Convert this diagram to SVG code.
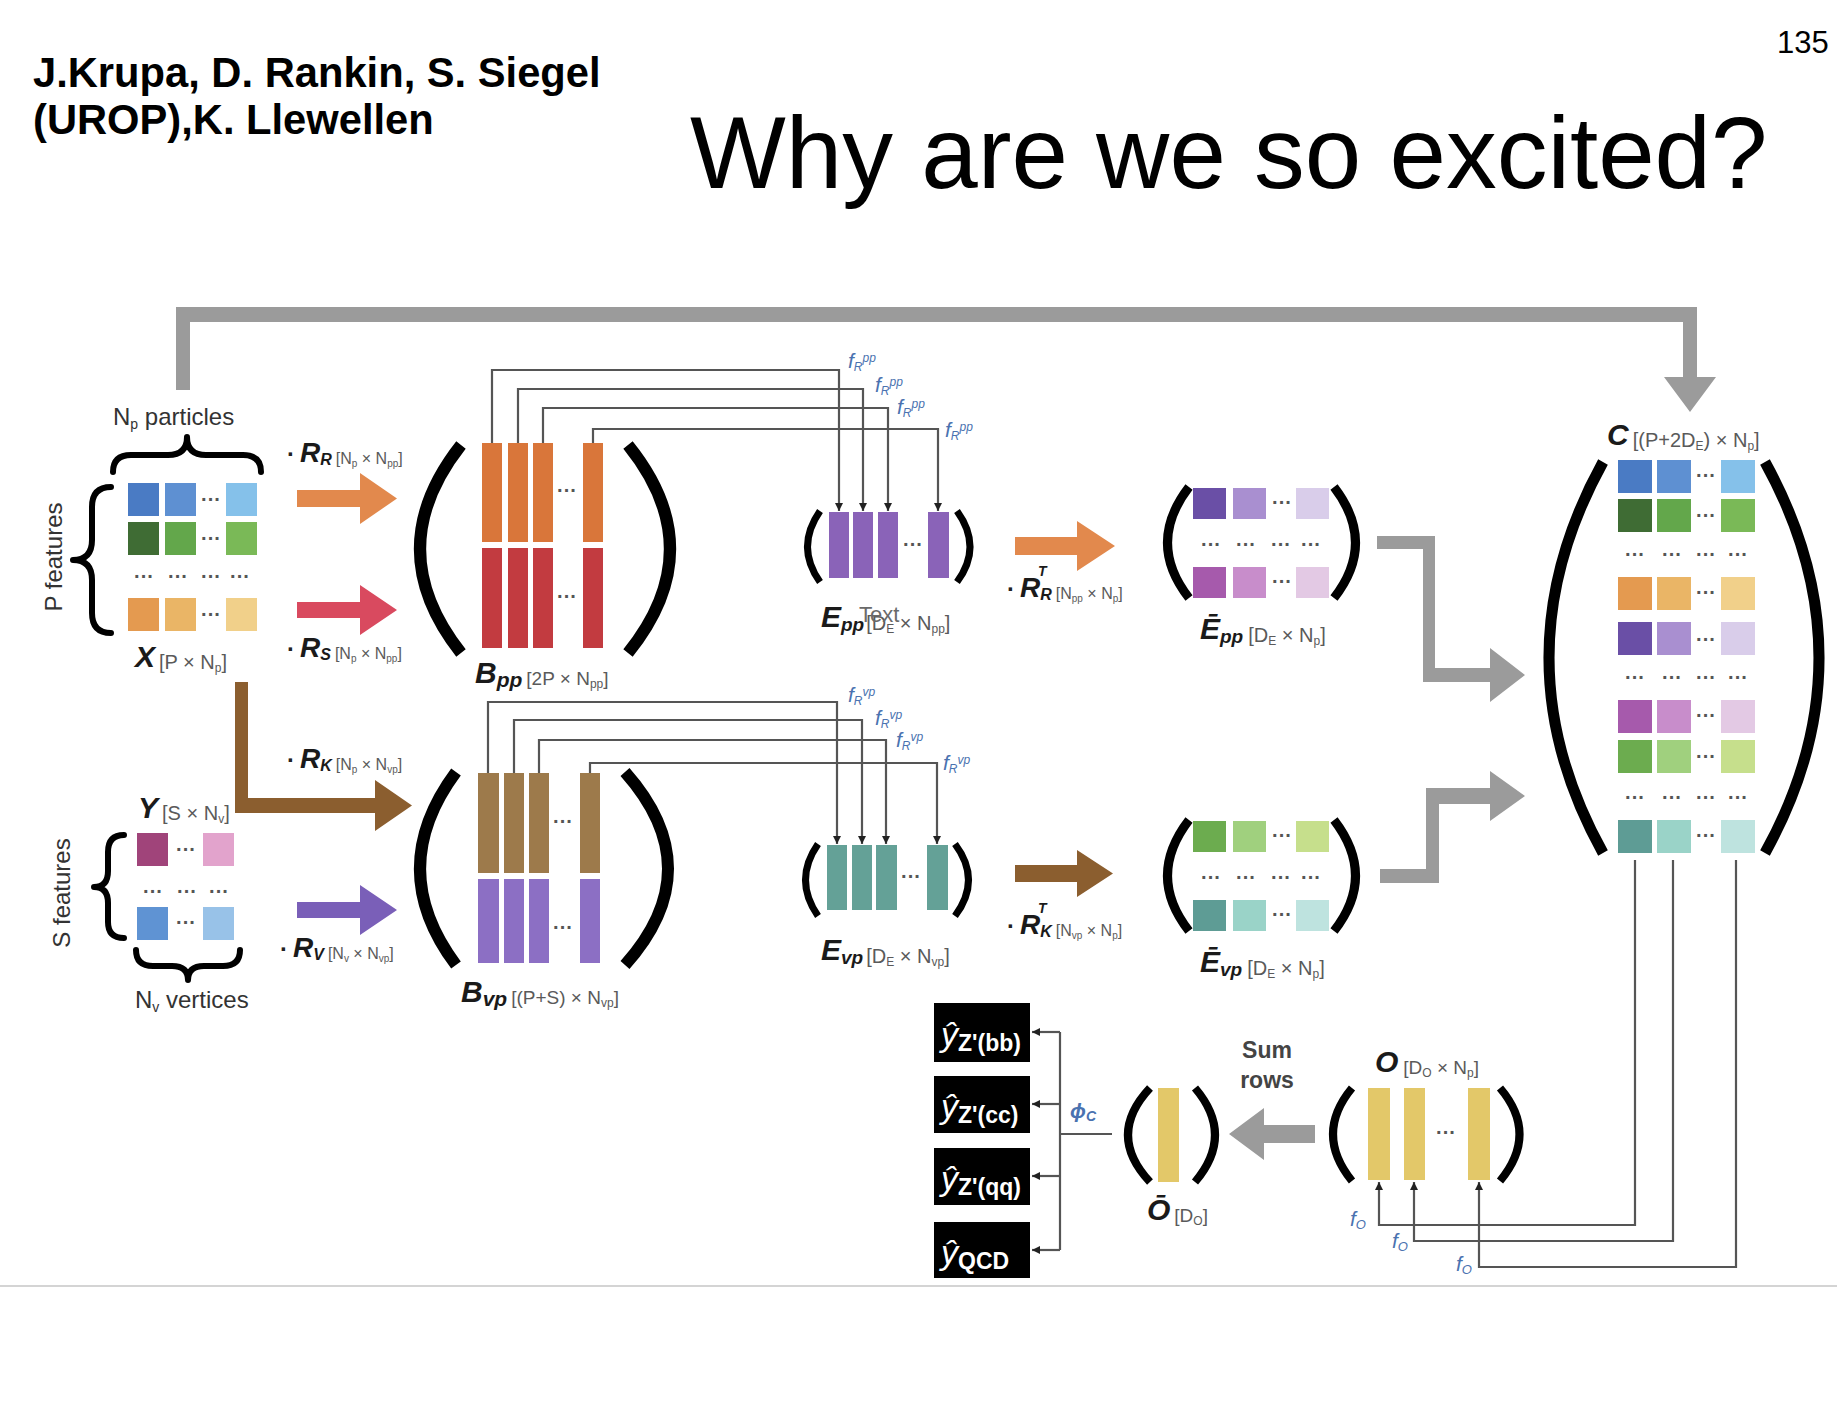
<svg xmlns="http://www.w3.org/2000/svg" width="1837" height="1420" viewBox="0 0 1837 1420">
<defs>
<style>
text { font-family: "Liberation Sans", Arial, Helvetica, sans-serif; }
.mx { font-weight: bold; font-style: italic; fill: #1a1a1a; }
.dim { fill: #5a5a5a; }
.bul { font-size: 24px; font-weight: bold; fill: #222; }
.dt { font-size: 20px; font-weight: bold; fill: #555; text-anchor: middle; }
.lab { font-size: 24px; fill: #333; }
.fl { fill: #4a72b0; font-style: italic; }
.paren { fill: none; stroke: #000; stroke-linecap: butt; }
.brace { fill: none; stroke: #000; stroke-width: 6; stroke-linecap: round; stroke-linejoin: round; }
.conn { fill: none; stroke: #555; stroke-width: 2.2; }
.gray { fill: #9b9b9b; }
.box { fill: #000; }
.boxt { fill: #fff; }
</style>
<marker id="ah" viewBox="0 0 8 8" refX="8" refY="4" markerWidth="8" markerHeight="8" markerUnits="userSpaceOnUse" orient="auto">
<path d="M0,0 L8,4 L0,8 z" fill="#222"/>
</marker>
</defs>
<rect width="1837" height="1420" fill="#fff"/>

<!-- slide header -->
<g id="header">
<text x="33" y="87" font-size="41.7" font-weight="bold" fill="#000">J.Krupa, D. Rankin, S. Siegel</text>
<text x="33" y="134" font-size="41.7" font-weight="bold" fill="#000">(UROP),K. Llewellen</text>
<text x="690" y="188" font-size="101.5" fill="#000">Why are we so excited?</text>
<text x="1777" y="53" font-size="31" fill="#000">135</text>
</g>

<!-- connectors: arrows between matrices -->
<g id="connectors">
<!-- skip connection X -> C -->
<path class="gray" d="M 176 390 V 307 H 1697 V 377 H 1716 L 1690 412 L 1664 377 H 1683 V 322 H 190 V 390 Z"/>
<!-- X -> Bpp via RR and RS -->
<polygon fill="#e2894d" points="297,490 360,490 360,473 397,498.5 360,524 360,507 297,507"/>
<polygon fill="#d94a5f" points="297,602 360,602 360,585 397,610 360,635 360,618 297,618"/>
<!-- X -> Bvp via RK -->
<path fill="#8b5e2f" d="M 235 682 H 248 V 798 H 375 V 780 L 412 805.5 L 375 831 V 813 H 235 Z"/>
<!-- Y -> Bvp via RV -->
<polygon fill="#7a5fb8" points="297,902 360,902 360,885 397,910 360,935 360,918 297,918"/>
<!-- Epp -> Ebar pp, Evp -> Ebar vp -->
<polygon fill="#e2894d" points="1015,537 1077,537 1077,521 1115,546 1077,571 1077,555 1015,555"/>
<polygon fill="#8b5e2f" points="1015,865 1077,865 1077,850 1113,873.5 1077,897 1077,882 1015,882"/>
<!-- Ebar -> C -->
<path class="gray" d="M 1377 536 H 1435 V 668 H 1490 V 648 L 1525 675 L 1490 702 V 682 H 1423 V 549 H 1377 Z"/>
<path class="gray" d="M 1380 869 H 1426 V 788 H 1490 V 771 L 1525 796 L 1490 821 V 804 H 1439 V 883 H 1380 Z"/>
<!-- O -> Obar (sum rows) -->
<polygon class="gray" points="1315,1125 1264,1125 1264,1108 1229,1134 1264,1160 1264,1143 1315,1143"/>

<!-- f_R^pp -->
<path class="conn" marker-end="url(#ah)" d="M 492 443 V 370 H 839 V 511"/>
<path class="conn" marker-end="url(#ah)" d="M 518 443 V 389 H 863 V 511"/>
<path class="conn" marker-end="url(#ah)" d="M 543 443 V 408 H 888 V 511"/>
<path class="conn" marker-end="url(#ah)" d="M 593 443 V 429 H 938 V 511"/>
<!-- f_R^vp -->
<path class="conn" marker-end="url(#ah)" d="M 488 773 V 702 H 837 V 844"/>
<path class="conn" marker-end="url(#ah)" d="M 514 773 V 720 H 862 V 844"/>
<path class="conn" marker-end="url(#ah)" d="M 539 773 V 740 H 886 V 844"/>
<path class="conn" marker-end="url(#ah)" d="M 590 773 V 763 H 937 V 844"/>
<!-- f_O -->
<path class="conn" marker-end="url(#ah)" d="M 1635 860 V 1225 H 1379 V 1182"/>
<path class="conn" marker-end="url(#ah)" d="M 1673 860 V 1241 H 1414 V 1182"/>
<path class="conn" marker-end="url(#ah)" d="M 1736 860 V 1267 H 1479 V 1182"/>
<!-- phi_C -->
<path class="conn" d="M 1112 1134 H 1060 M 1060 1032 V 1250"/>
<path class="conn" marker-end="url(#ah)" d="M 1060 1032 H 1032"/>
<path class="conn" marker-end="url(#ah)" d="M 1060 1104 H 1032"/>
<path class="conn" marker-end="url(#ah)" d="M 1060 1176 H 1032"/>
<path class="conn" marker-end="url(#ah)" d="M 1060 1250 H 1032"/>

<!-- function labels -->
<text class="fl" x="848" y="368" font-size="21">f<tspan font-size="12" dy="3">R</tspan><tspan font-size="12" dy="-9">pp</tspan></text>
<text class="fl" x="875" y="392" font-size="21">f<tspan font-size="12" dy="3">R</tspan><tspan font-size="12" dy="-9">pp</tspan></text>
<text class="fl" x="897" y="414" font-size="21">f<tspan font-size="12" dy="3">R</tspan><tspan font-size="12" dy="-9">pp</tspan></text>
<text class="fl" x="945" y="437" font-size="21">f<tspan font-size="12" dy="3">R</tspan><tspan font-size="12" dy="-9">pp</tspan></text>
<text class="fl" x="848" y="702" font-size="21">f<tspan font-size="12" dy="3">R</tspan><tspan font-size="12" dy="-9">vp</tspan></text>
<text class="fl" x="875" y="725" font-size="21">f<tspan font-size="12" dy="3">R</tspan><tspan font-size="12" dy="-9">vp</tspan></text>
<text class="fl" x="896" y="747" font-size="21">f<tspan font-size="12" dy="3">R</tspan><tspan font-size="12" dy="-9">vp</tspan></text>
<text class="fl" x="943" y="770" font-size="21">f<tspan font-size="12" dy="3">R</tspan><tspan font-size="12" dy="-9">vp</tspan></text>
<text class="fl" x="1350" y="1226" font-size="21">f<tspan font-size="13" dy="3">O</tspan></text>
<text class="fl" x="1392" y="1248" font-size="21">f<tspan font-size="13" dy="3">O</tspan></text>
<text class="fl" x="1456" y="1271" font-size="21">f<tspan font-size="13" dy="3">O</tspan></text>
<text class="fl" x="1070" y="1118" font-size="21" font-weight="bold">ϕ<tspan font-size="14" dy="3">C</tspan></text>

<!-- relation matrix labels -->
<text x="287" y="462"><tspan class="bul">·</tspan><tspan class="mx" font-size="28" dx="5">R</tspan><tspan class="mx" font-size="16" dy="3">R</tspan><tspan class="dim" font-size="16" dx="4" dy="-1">[N</tspan><tspan class="dim" font-size="10" dy="3">p</tspan><tspan class="dim" font-size="16" dy="-3"> × N</tspan><tspan class="dim" font-size="10" dy="3">pp</tspan><tspan class="dim" font-size="16" dy="-3">]</tspan></text>
<text x="287" y="657"><tspan class="bul">·</tspan><tspan class="mx" font-size="28" dx="5">R</tspan><tspan class="mx" font-size="16" dy="3">S</tspan><tspan class="dim" font-size="16" dx="4" dy="-1">[N</tspan><tspan class="dim" font-size="10" dy="3">p</tspan><tspan class="dim" font-size="16" dy="-3"> × N</tspan><tspan class="dim" font-size="10" dy="3">pp</tspan><tspan class="dim" font-size="16" dy="-3">]</tspan></text>
<text x="287" y="768"><tspan class="bul">·</tspan><tspan class="mx" font-size="28" dx="5">R</tspan><tspan class="mx" font-size="16" dy="3">K</tspan><tspan class="dim" font-size="16" dx="4" dy="-1">[N</tspan><tspan class="dim" font-size="10" dy="3">p</tspan><tspan class="dim" font-size="16" dy="-3"> × N</tspan><tspan class="dim" font-size="10" dy="3">vp</tspan><tspan class="dim" font-size="16" dy="-3">]</tspan></text>
<text x="280" y="957"><tspan class="bul">·</tspan><tspan class="mx" font-size="28" dx="5">R</tspan><tspan class="mx" font-size="16" dy="3">V</tspan><tspan class="dim" font-size="16" dx="4" dy="-1">[N</tspan><tspan class="dim" font-size="10" dy="3">v</tspan><tspan class="dim" font-size="16" dy="-3"> × N</tspan><tspan class="dim" font-size="10" dy="3">vp</tspan><tspan class="dim" font-size="16" dy="-3">]</tspan></text>
<text x="1007" y="597"><tspan class="bul">·</tspan><tspan class="mx" font-size="28" dx="5">R</tspan><tspan class="mx" font-size="16" dy="3">R</tspan><tspan class="dim" font-size="16" dx="4" dy="-1">[N</tspan><tspan class="dim" font-size="10" dy="3">pp</tspan><tspan class="dim" font-size="16" dy="-3"> × N</tspan><tspan class="dim" font-size="10" dy="3">p</tspan><tspan class="dim" font-size="16" dy="-3">]</tspan></text>
<text class="mx" x="1038" y="576" font-size="14">T</text>
<text x="1007" y="934"><tspan class="bul">·</tspan><tspan class="mx" font-size="28" dx="5">R</tspan><tspan class="mx" font-size="16" dy="3">K</tspan><tspan class="dim" font-size="16" dx="4" dy="-1">[N</tspan><tspan class="dim" font-size="10" dy="3">vp</tspan><tspan class="dim" font-size="16" dy="-3"> × N</tspan><tspan class="dim" font-size="10" dy="3">p</tspan><tspan class="dim" font-size="16" dy="-3">]</tspan></text>
<text class="mx" x="1038" y="913" font-size="14">T</text>
</g>

<!-- particle features X -->
<g id="node-X">
<text class="lab" x="113" y="425">N<tspan font-size="14" dy="4">p</tspan><tspan dy="-4"> particles</tspan></text>
<path class="brace" d="M 113 472 Q 113 455 131 455 L 168 455 Q 187 455 187 437 Q 187 455 206 455 L 243 455 Q 261 455 261 472"/>
<path class="brace" d="M 111 487 Q 92 487 92 507 L 92 540 Q 92 560 73 560 Q 92 560 92 580 L 92 613 Q 92 633 111 633"/>
<text class="lab" transform="translate(62 557) rotate(-90)" text-anchor="middle">P features</text>
<rect x="128" y="483" width="31" height="33" fill="#4a7bc4"/>
<rect x="165" y="483" width="31" height="33" fill="#5e90d2"/>
<rect x="226" y="483" width="31" height="33" fill="#85c1ea"/>
<rect x="128" y="522" width="31" height="33" fill="#3f6c34"/>
<rect x="165" y="522" width="31" height="33" fill="#63a74b"/>
<rect x="226" y="522" width="31" height="33" fill="#7ab957"/>
<rect x="128" y="598" width="31" height="33" fill="#e49a50"/>
<rect x="165" y="598" width="31" height="33" fill="#eab566"/>
<rect x="226" y="598" width="31" height="33" fill="#f1d08a"/>
<text class="dt" x="211" y="506">···</text>
<text class="dt" x="211" y="545">···</text>
<text class="dt" x="144" y="583">···</text>
<text class="dt" x="178" y="583">···</text>
<text class="dt" x="211" y="583">···</text>
<text class="dt" x="240" y="583">···</text>
<text class="dt" x="211" y="621">···</text>
<text x="135" y="667"><tspan class="mx" font-size="30">X</tspan><tspan class="dim" font-size="20" dx="4" dy="2">[P × N</tspan><tspan class="dim" font-size="12" dy="3">p</tspan><tspan class="dim" font-size="20" dy="-3">]</tspan></text>
</g>

<!-- secondary vertex features Y -->
<g id="node-Y">
<text x="138" y="818"><tspan class="mx" font-size="30">Y</tspan><tspan class="dim" font-size="20" dx="4" dy="2">[S × N</tspan><tspan class="dim" font-size="12" dy="3">v</tspan><tspan class="dim" font-size="20" dy="-3">]</tspan></text>
<path class="brace" d="M 124 835 Q 108 835 108 852 L 108 871 Q 108 887 94 887 Q 108 887 108 903 L 108 922 Q 108 938 124 938"/>
<text class="lab" transform="translate(70 893) rotate(-90)" text-anchor="middle">S features</text>
<rect x="137" y="833" width="31" height="33" fill="#a0447a"/>
<rect x="203" y="833" width="31" height="33" fill="#e2a3cc"/>
<rect x="137" y="907" width="31" height="33" fill="#5f93d3"/>
<rect x="203" y="907" width="31" height="33" fill="#98c2e8"/>
<text class="dt" x="186" y="856">···</text>
<text class="dt" x="153" y="898">···</text>
<text class="dt" x="187" y="898">···</text>
<text class="dt" x="219" y="898">···</text>
<text class="dt" x="186" y="929">···</text>
<path class="brace" d="M 136 950 Q 136 966 153 966 L 172 966 Q 188 966 188 980 Q 188 966 204 966 L 223 966 Q 240 966 240 950"/>
<text class="lab" x="135" y="1008">N<tspan font-size="14" dy="4">v</tspan><tspan dy="-4"> vertices</tspan></text>
</g>

<!-- Bpp -->
<g id="node-Bpp">
<path class="paren" stroke-width="12" d="M 461 445 Q 379 549 461 653"/>
<path class="paren" stroke-width="12" d="M 628 445 Q 712 549 628 653"/>
<g fill="#d9763a">
<rect x="482" y="443" width="20" height="99"/><rect x="508" y="443" width="20" height="99"/><rect x="533" y="443" width="20" height="99"/><rect x="583" y="443" width="20" height="99"/>
</g>
<g fill="#c23b40">
<rect x="482" y="548" width="20" height="100"/><rect x="508" y="548" width="20" height="100"/><rect x="533" y="548" width="20" height="100"/><rect x="583" y="548" width="20" height="100"/>
</g>
<text class="dt" x="567" y="497">···</text>
<text class="dt" x="567" y="603">···</text>
<text x="475" y="683"><tspan class="mx" font-size="30">B</tspan><tspan class="mx" font-size="21" dy="4">pp</tspan><tspan class="dim" font-size="19" dx="4" dy="-2">[2P × N</tspan><tspan class="dim" font-size="12" dy="3">pp</tspan><tspan class="dim" font-size="19" dy="-3">]</tspan></text>
</g>

<!-- Bvp -->
<g id="node-Bvp">
<path class="paren" stroke-width="12" d="M 456 772 Q 384 869 456 965"/>
<path class="paren" stroke-width="12" d="M 625 772 Q 711 869 625 965"/>
<g fill="#9d7a4b">
<rect x="478" y="773" width="21" height="100"/><rect x="504" y="773" width="20" height="100"/><rect x="529" y="773" width="20" height="100"/><rect x="580" y="773" width="20" height="100"/>
</g>
<g fill="#8c6fc4">
<rect x="478" y="879" width="21" height="84"/><rect x="504" y="879" width="20" height="84"/><rect x="529" y="879" width="20" height="84"/><rect x="580" y="879" width="20" height="84"/>
</g>
<text class="dt" x="563" y="828">···</text>
<text class="dt" x="563" y="934">···</text>
<text x="461" y="1002"><tspan class="mx" font-size="30">B</tspan><tspan class="mx" font-size="21" dy="4">vp</tspan><tspan class="dim" font-size="19" dx="4" dy="-2">[(P+S) × N</tspan><tspan class="dim" font-size="12" dy="3">vp</tspan><tspan class="dim" font-size="19" dy="-3">]</tspan></text>
</g>

<!-- Epp -->
<g id="node-Epp">
<path class="paren" stroke-width="7" d="M 820 511 Q 795 547 820 582"/>
<path class="paren" stroke-width="7" d="M 957 511 Q 983 547 957 582"/>
<g fill="#8a63b8">
<rect x="829" y="512" width="20" height="66"/><rect x="853" y="512" width="20" height="66"/><rect x="878" y="512" width="20" height="66"/><rect x="928" y="512" width="21" height="66"/>
</g>
<text class="dt" x="913" y="551">···</text>
<text x="821" y="627"><tspan class="mx" font-size="30">E</tspan><tspan class="mx" font-size="19" dy="4">pp</tspan><tspan class="dim" font-size="20" dx="2" dy="-1">[D</tspan><tspan class="dim" font-size="12" dy="3">E</tspan><tspan class="dim" font-size="20" dy="-3"> × N</tspan><tspan class="dim" font-size="12" dy="3">pp</tspan><tspan class="dim" font-size="20" dy="-3">]</tspan></text>
<text x="859" y="622" font-size="22" fill="#6a6a6a">Text</text>
</g>

<!-- Evp -->
<g id="node-Evp">
<path class="paren" stroke-width="7" d="M 818 844 Q 793 880 818 916"/>
<path class="paren" stroke-width="7" d="M 955 844 Q 982 880 955 916"/>
<g fill="#64a197">
<rect x="827" y="845" width="20" height="65"/><rect x="852" y="845" width="20" height="65"/><rect x="876" y="845" width="21" height="65"/><rect x="927" y="845" width="21" height="65"/>
</g>
<text class="dt" x="911" y="883">···</text>
<text x="821" y="960"><tspan class="mx" font-size="30">E</tspan><tspan class="mx" font-size="19" dy="4">vp</tspan><tspan class="dim" font-size="20" dx="3" dy="-1">[D</tspan><tspan class="dim" font-size="12" dy="3">E</tspan><tspan class="dim" font-size="20" dy="-3"> × N</tspan><tspan class="dim" font-size="12" dy="3">vp</tspan><tspan class="dim" font-size="20" dy="-3">]</tspan></text>
</g>

<!-- Ebar pp -->
<g id="node-Ebar-pp">
<path class="paren" stroke-width="9" d="M 1189 487 Q 1146 543 1189 598"/>
<path class="paren" stroke-width="9" d="M 1334 487 Q 1377 543 1334 598"/>
<rect x="1193" y="488" width="33" height="31" fill="#6a4fa6"/>
<rect x="1233" y="488" width="33" height="31" fill="#a98fd0"/>
<rect x="1296" y="488" width="33" height="31" fill="#d9cdea"/>
<rect x="1193" y="567" width="33" height="31" fill="#a65aac"/>
<rect x="1233" y="567" width="33" height="31" fill="#c88dcb"/>
<rect x="1296" y="567" width="33" height="31" fill="#e3c9e4"/>
<text class="dt" x="1282" y="509">···</text>
<text class="dt" x="1211" y="551">···</text>
<text class="dt" x="1246" y="551">···</text>
<text class="dt" x="1281" y="551">···</text>
<text class="dt" x="1311" y="551">···</text>
<text class="dt" x="1282" y="588">···</text>
<text x="1200" y="639"><tspan class="mx" font-size="30">Ē</tspan><tspan class="mx" font-size="19" dy="4">pp</tspan><tspan class="dim" font-size="20" dx="5" dy="-1">[D</tspan><tspan class="dim" font-size="12" dy="3">E</tspan><tspan class="dim" font-size="20" dy="-3"> × N</tspan><tspan class="dim" font-size="12" dy="3">p</tspan><tspan class="dim" font-size="20" dy="-3">]</tspan></text>
</g>

<!-- Ebar vp -->
<g id="node-Ebar-vp">
<path class="paren" stroke-width="9" d="M 1189 820 Q 1146 876 1189 931"/>
<path class="paren" stroke-width="9" d="M 1334 820 Q 1377 876 1334 931"/>
<rect x="1193" y="821" width="33" height="31" fill="#6cac4f"/>
<rect x="1233" y="821" width="33" height="31" fill="#a0d07e"/>
<rect x="1296" y="821" width="33" height="31" fill="#c6df8c"/>
<rect x="1193" y="900" width="33" height="31" fill="#5e9c95"/>
<rect x="1233" y="900" width="33" height="31" fill="#9ad3c8"/>
<rect x="1296" y="900" width="33" height="31" fill="#bee3df"/>
<text class="dt" x="1282" y="842">···</text>
<text class="dt" x="1211" y="884">···</text>
<text class="dt" x="1246" y="884">···</text>
<text class="dt" x="1281" y="884">···</text>
<text class="dt" x="1311" y="884">···</text>
<text class="dt" x="1282" y="921">···</text>
<text x="1200" y="972"><tspan class="mx" font-size="30">Ē</tspan><tspan class="mx" font-size="19" dy="4">vp</tspan><tspan class="dim" font-size="20" dx="5" dy="-1">[D</tspan><tspan class="dim" font-size="12" dy="3">E</tspan><tspan class="dim" font-size="20" dy="-3"> × N</tspan><tspan class="dim" font-size="12" dy="3">p</tspan><tspan class="dim" font-size="20" dy="-3">]</tspan></text>
</g>

<!-- combined matrix C -->
<g id="node-C">
<text x="1607" y="445"><tspan class="mx" font-size="30" font-style="normal">C</tspan><tspan class="dim" font-size="20" dx="4" dy="2">[(P+2D</tspan><tspan class="dim" font-size="12" dy="3">E</tspan><tspan class="dim" font-size="20" dy="-3">) × N</tspan><tspan class="dim" font-size="12" dy="3">p</tspan><tspan class="dim" font-size="20" dy="-3">]</tspan></text>
<path class="paren" stroke-width="11" d="M 1603 462 Q 1495 658 1603 853"/>
<path class="paren" stroke-width="11" d="M 1765 462 Q 1873 658 1765 853"/>
<rect x="1618" y="460" width="34" height="33" fill="#4a7bc4"/>
<rect x="1657" y="460" width="34" height="33" fill="#5e90d2"/>
<rect x="1721" y="460" width="34" height="33" fill="#85c1ea"/>
<rect x="1618" y="499" width="34" height="33" fill="#3f6c34"/>
<rect x="1657" y="499" width="34" height="33" fill="#63a74b"/>
<rect x="1721" y="499" width="34" height="33" fill="#7ab957"/>
<rect x="1618" y="577" width="34" height="33" fill="#e49a50"/>
<rect x="1657" y="577" width="34" height="33" fill="#eab566"/>
<rect x="1721" y="577" width="34" height="33" fill="#f1d08a"/>
<rect x="1618" y="622" width="34" height="33" fill="#6a4fa6"/>
<rect x="1657" y="622" width="34" height="33" fill="#a98fd0"/>
<rect x="1721" y="622" width="34" height="33" fill="#d9cdea"/>
<rect x="1618" y="700" width="34" height="33" fill="#a65aac"/>
<rect x="1657" y="700" width="34" height="33" fill="#c88dcb"/>
<rect x="1721" y="700" width="34" height="33" fill="#e3c9e4"/>
<rect x="1618" y="740" width="34" height="33" fill="#6cac4f"/>
<rect x="1657" y="740" width="34" height="33" fill="#a0d07e"/>
<rect x="1721" y="740" width="34" height="33" fill="#c6df8c"/>
<rect x="1618" y="820" width="34" height="33" fill="#5e9c95"/>
<rect x="1657" y="820" width="34" height="33" fill="#9ad3c8"/>
<rect x="1721" y="820" width="34" height="33" fill="#bee3df"/>
<text class="dt" x="1706" y="482">···</text>
<text class="dt" x="1706" y="522">···</text>
<text class="dt" x="1635" y="561">···</text>
<text class="dt" x="1672" y="561">···</text>
<text class="dt" x="1706" y="561">···</text>
<text class="dt" x="1738" y="561">···</text>
<text class="dt" x="1706" y="599">···</text>
<text class="dt" x="1706" y="646">···</text>
<text class="dt" x="1635" y="684">···</text>
<text class="dt" x="1672" y="684">···</text>
<text class="dt" x="1706" y="684">···</text>
<text class="dt" x="1738" y="684">···</text>
<text class="dt" x="1706" y="722">···</text>
<text class="dt" x="1706" y="763">···</text>
<text class="dt" x="1635" y="804">···</text>
<text class="dt" x="1672" y="804">···</text>
<text class="dt" x="1706" y="804">···</text>
<text class="dt" x="1738" y="804">···</text>
<text class="dt" x="1706" y="842">···</text>
</g>

<!-- per-particle outputs O -->
<g id="node-O">
<text x="1375" y="1072"><tspan class="mx" font-size="30" font-style="normal">O</tspan><tspan class="dim" font-size="19" dx="5" dy="2">[D</tspan><tspan class="dim" font-size="12" dy="3">O</tspan><tspan class="dim" font-size="19" dy="-3"> × N</tspan><tspan class="dim" font-size="12" dy="3">p</tspan><tspan class="dim" font-size="19" dy="-3">]</tspan></text>
<path class="paren" stroke-width="8" d="M 1352 1088 Q 1314 1134 1352 1181"/>
<path class="paren" stroke-width="8" d="M 1500 1088 Q 1539 1134 1500 1181"/>
<g fill="#e3c869">
<rect x="1368" y="1088" width="22" height="92"/><rect x="1404" y="1088" width="21" height="92"/><rect x="1468" y="1088" width="22" height="92"/>
</g>
<text class="dt" x="1446" y="1139">···</text>
<text x="1267" y="1058" font-size="23" font-weight="bold" fill="#444" text-anchor="middle">Sum</text>
<text x="1267" y="1088" font-size="23" font-weight="bold" fill="#444" text-anchor="middle">rows</text>
</g>

<!-- summed output Obar -->
<g id="node-Obar">
<path class="paren" stroke-width="8" d="M 1150 1088 Q 1106 1135 1150 1182"/>
<path class="paren" stroke-width="8" d="M 1195 1088 Q 1235 1135 1195 1182"/>
<rect x="1158" y="1088" width="21" height="94" fill="#e3c869"/>
<text x="1147" y="1220"><tspan class="mx" font-size="30" font-style="normal">Ō</tspan><tspan class="dim" font-size="19" dx="4" dy="2">[D</tspan><tspan class="dim" font-size="12" dy="3">O</tspan><tspan class="dim" font-size="19" dy="-3">]</tspan></text>
</g>

<!-- classifier outputs -->
<g id="out-zbb">
<rect class="box" x="934" y="1003" width="96" height="59"/>
<text class="boxt" x="941" y="1046"><tspan font-size="34" font-style="italic">ŷ</tspan><tspan font-size="23" font-weight="bold" dy="5">Z'(bb)</tspan></text>
</g>
<g id="out-zcc">
<rect class="box" x="934" y="1076" width="96" height="57"/>
<text class="boxt" x="941" y="1118"><tspan font-size="34" font-style="italic">ŷ</tspan><tspan font-size="23" font-weight="bold" dy="5">Z'(cc)</tspan></text>
</g>
<g id="out-zqq">
<rect class="box" x="934" y="1148" width="96" height="57"/>
<text class="boxt" x="941" y="1190"><tspan font-size="34" font-style="italic">ŷ</tspan><tspan font-size="23" font-weight="bold" dy="5">Z'(qq)</tspan></text>
</g>
<g id="out-qcd">
<rect class="box" x="934" y="1222" width="96" height="56"/>
<text class="boxt" x="941" y="1264"><tspan font-size="34" font-style="italic">ŷ</tspan><tspan font-size="23" font-weight="bold" dy="5">QCD</tspan></text>
</g>

<!-- slide footer rule -->
<line x1="0" y1="1286" x2="1837" y2="1286" stroke="#d4d4d4" stroke-width="2"/>
</svg>
